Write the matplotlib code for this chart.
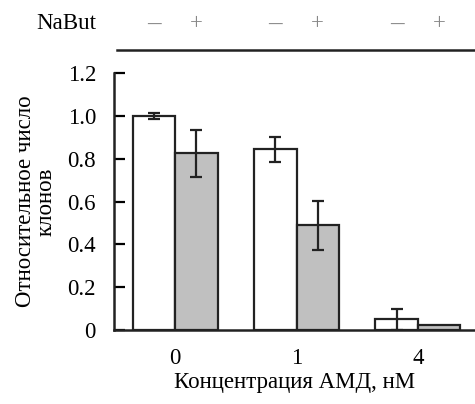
import matplotlib.pyplot as plt
import numpy as np

plt.rcParams['font.family'] = ['Liberation Serif', 'DejaVu Serif']

# Data
concentrations = ['0', '1', '4']
control = [1.00, 0.845, 0.05]
control_err = [0.012, 0.058, 0.05]
nabut = [0.825, 0.49, 0.023]
nabut_err = [0.11, 0.115, 0.0]
signs = ['\u2013', '+']

edge = '#222222'
gray = '#c0c0c0'
width = 0.35
fs = 16.5

fig = plt.figure(figsize=(4.75, 4.04), dpi=100)
ax = fig.add_axes([0.24, 0.183, 0.76, 0.636])

x = np.arange(len(concentrations))
ax.bar(x - width / 2, control, width, color='white', edgecolor=edge, linewidth=1.6)
ax.bar(x + width / 2, nabut, width, color=gray, edgecolor=edge, linewidth=1.6)
ax.errorbar(x - width / 2, control, yerr=control_err, fmt='none', ecolor=edge,
            elinewidth=1.6, capsize=4.5, capthick=1.6)
mask = np.array(nabut_err) > 0
ax.errorbar((x + width / 2)[mask], np.array(nabut)[mask], yerr=np.array(nabut_err)[mask],
            fmt='none', ecolor=edge, elinewidth=1.6, capsize=4.5, capthick=1.6)

ax.set_xlim(-0.504, 2.47)
ax.set_ylim(0, 1.2)
ax.set_yticks([0, 0.2, 0.4, 0.6, 0.8, 1.0, 1.2])
ax.set_yticklabels(['0', '0.2', '0.4', '0.6', '0.8', '1.0', '1.2'],
                   fontfamily='Liberation Serif')
ax.set_xticks(x)
ax.set_xticklabels(concentrations, fontfamily='Liberation Serif')
ax.tick_params(axis='y', direction='in', length=8, width=1.6, labelsize=fs, pad=13)
ax.tick_params(axis='x', length=0, labelsize=fs, pad=13)
for s in ['top', 'right']:
    ax.spines[s].set_visible(False)
for s in ['left', 'bottom']:
    ax.spines[s].set_linewidth(1.8)
    ax.spines[s].set_color(edge)

ax.set_xlabel('Концентрация АМД, нМ', fontsize=fs, labelpad=2)
ax.set_ylabel('Относительное число\nклонов', fontsize=fs, labelpad=8, linespacing=0.95)

# NaBut header
for i in range(len(concentrations)):
    ax.text(x[i] - width / 2, 1.43, signs[0], ha='center', va='center', fontsize=fs + 3,
            color='#888888', fontfamily='Liberation Serif')
    ax.text(x[i] + width / 2, 1.43, signs[1], ha='center', va='center', fontsize=fs,
            color='#888888', fontfamily='Liberation Serif')
ax.text(-0.9, 1.43, 'NaBut', ha='center', va='center', fontsize=fs, clip_on=False,
        fontfamily='Liberation Serif')
ax.plot([-0.48, 2.47], [1.31, 1.31], color=edge, linewidth=1.8, clip_on=False)

fig.savefig('out.png', dpi=100)
